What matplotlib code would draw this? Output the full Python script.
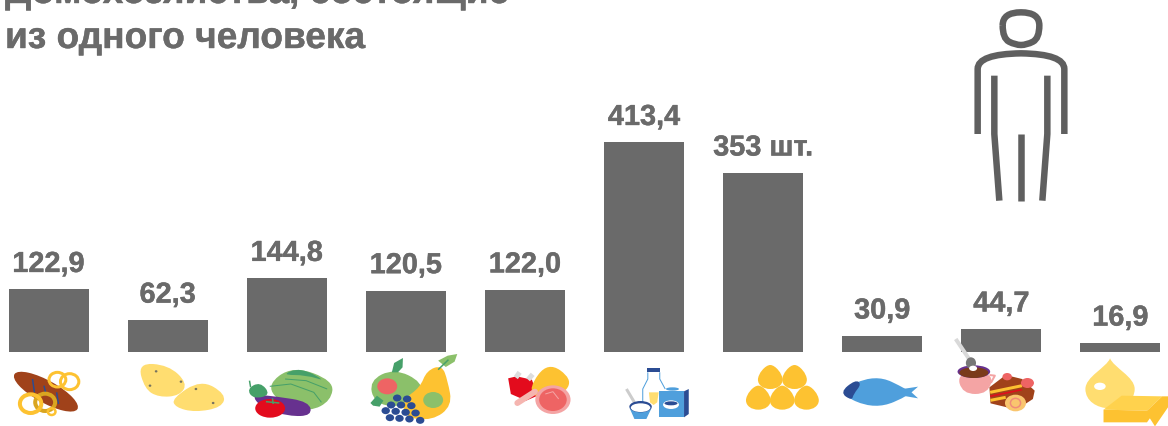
"""Per-capita food consumption of one-person households: bars with food icons."""

import matplotlib

matplotlib.use("Agg")

import matplotlib.pyplot as plt
from matplotlib import patheffects
from matplotlib.patches import Circle, Ellipse, PathPatch, Polygon
from matplotlib.path import Path
from matplotlib.transforms import Affine2D

plt.rcParams["font.family"] = ["Liberation Sans", "DejaVu Sans"]

TITLE_LINES = ["Домохозяйства, состоящие", "из одного человека"]
VALUES = [122.9, 62.3, 144.8, 120.5, 122.0, 413.4, 353, 30.9, 44.7, 16.9]
VALUE_LABELS = ["122,9", "62,3", "144,8", "120,5", "122,0", "413,4", "353 шт.", "30,9", "44,7", "16,9"]

GREY = "#6a6a6a"
PERSON = "#5f5f5f"
GOLD = "#fdc231"
PALE = "#ffdd70"
GREEN = "#8bc06a"
DARK_GREEN = "#46a069"
RED = "#e30b1d"
NAVY = "#2b4c93"
BLUE = "#4f9fdc"
BROWN = "#a0421a"
PINK = "#f4a4a4"
SALMON = "#ee6464"
PURPLE = "#67318f"

PX = 0.72  # one pixel in points at dpi 100
HEAVY = [patheffects.withStroke(linewidth=0.3, foreground=GREY)]

fig = plt.figure(figsize=(11.68, 4.27), dpi=100)

# bars: index i sits at 48.5 + 119.1 i px, baseline at y = 352.5 px, 0.506 px per unit
ax = fig.add_axes([0, 0, 1, 1])
ax.set_xlim(-48.5 / 119.1, (1168 - 48.5) / 119.1)
ax.set_ylim(-74.5 / 0.506, 352.5 / 0.506)
ax.axis("off")
positions = list(range(len(VALUES)))
ax.bar(positions, VALUES, width=80 / 119.1, color=GREY)
for pos, val, label in zip(positions, VALUES, VALUE_LABELS):
    ax.annotate(label, (pos, val), xytext=(0, 12.5), textcoords="offset points",
                ha="center", va="baseline", fontsize=20.8, fontweight="bold", color=GREY,
                path_effects=HEAVY)

# overlay in image pixels for the title and the pictograms
over = fig.add_axes([0, 0, 1, 1])
over.set_xlim(0, 1168)
over.set_ylim(427, 0)
over.axis("off")
over.patch.set_alpha(0)

over.text(5, 4, TITLE_LINES[0], fontsize=26.7, fontweight="bold", color=GREY, va="baseline",
          path_effects=HEAVY)
over.text(5, 49, TITLE_LINES[1], fontsize=26.7, fontweight="bold", color=GREY, va="baseline",
          path_effects=HEAVY)


def sketch(sx, sy, x0, y0):
    """Transform for shapes traced in a scaled crop whose corner is at x0, y0."""
    return Affine2D().scale(sx, sy).translate(x0, y0) + over.transData


def smooth_path(pts):
    """Closed quadratic curve through the midpoints of pts."""
    n = len(pts)
    mids = [((pts[i][0] + pts[(i + 1) % n][0]) / 2, (pts[i][1] + pts[(i + 1) % n][1]) / 2) for i in range(n)]
    verts = [mids[-1]]
    codes = [Path.MOVETO]
    for i in range(n):
        verts += [pts[i], mids[i]]
        codes += [Path.CURVE3, Path.CURVE3]
    return Path(verts, codes)


def blob(tf, pts, color, z=2):
    over.add_patch(PathPatch(smooth_path(pts), fc=color, ec="none", transform=tf, zorder=z))


def poly(tf, pts, color, z=2):
    over.add_patch(Polygon(pts, closed=True, fc=color, ec="none", transform=tf, zorder=z))


def oval(tf, xy, w, h, color, z=2, angle=0):
    over.add_patch(Ellipse(xy, w, h, angle=angle, fc=color, ec="none", transform=tf, zorder=z))


def ring(tf, xy, r, color, width, z=3):
    over.add_patch(Circle(xy, r, fc="none", ec=color, lw=width * PX, transform=tf, zorder=z))


def stroke(tf, pts, color, width, z=3, cap="butt"):
    xs, ys = zip(*pts)
    over.plot(xs, ys, color=color, lw=width * PX, transform=tf, zorder=z,
              solid_capstyle=cap, solid_joinstyle="round")


def pointed(tf, cx, top, bottom, half, pull, shoulder, color, z=2, tip=0.3):
    """Symmetric egg or drop shape; tip=0 gives a round top, tip>0 a sharp one."""
    c1 = top + (shoulder - top) * tip
    c2 = shoulder - (shoulder - top) * 0.4
    c3 = shoulder + (bottom - shoulder) * 0.6
    verts = [
        (cx, top),
        (cx + pull, c1), (cx + half, c2), (cx + half, shoulder),
        (cx + half, c3), (cx + half * 0.55, bottom), (cx, bottom),
        (cx - half * 0.55, bottom), (cx - half, c3), (cx - half, shoulder),
        (cx - half, c2), (cx - pull, c1), (cx, top),
    ]
    codes = [Path.MOVETO] + [Path.CURVE4] * 12
    over.add_patch(PathPatch(Path(verts, codes), fc=color, ec="none", transform=tf, zorder=z))


def draw_left_icons(tf):
    # bread and rings
    oval(tf, (120, 158), 195, 65, BROWN, angle=33)
    for seg in [[(85, 120), (90, 160)], [(115, 140), (120, 165)], [(148, 160), (153, 195)]]:
        stroke(tf, seg, NAVY, 1.5)
    ring(tf, (150, 122), 22, GOLD, 3)
    ring(tf, (182, 128), 24, GOLD, 3)
    ring(tf, (118, 190), 26, "#d9a520", 4)
    ring(tf, (80, 194), 28, GOLD, 4, z=4)
    ring(tf, (135, 218), 10, GOLD, 2.5)

    # potatoes
    blob(tf, [(360, 72), (440, 78), (490, 132), (470, 170), (415, 175), (378, 150)], PALE)
    blob(tf, [(450, 178), (525, 122), (590, 165), (580, 205), (510, 220), (458, 205)], PALE)
    for xy in [(408, 97), (473, 128), (392, 140), (512, 150), (557, 192)]:
        oval(tf, xy, 7, 7, "#77735f", z=3)

    # vegetables
    blob(tf, [(695, 140), (765, 80), (872, 125), (865, 185), (810, 218), (740, 198)], GREEN)
    blob(tf, [(735, 108), (785, 85), (855, 128), (800, 108)], DARK_GREEN, z=3)
    stroke(tf, [(705, 142), (760, 135), (820, 160), (840, 190)], DARK_GREEN, 1)
    stroke(tf, [(745, 120), (800, 125), (855, 150)], DARK_GREEN, 1)
    blob(tf, [(655, 165), (720, 172), (808, 188), (815, 230), (755, 232), (685, 208)], PURPLE, z=3)
    blob(tf, [(645, 150), (680, 128), (708, 168), (662, 180)], DARK_GREEN, z=4)
    stroke(tf, [(652, 125), (655, 145)], DARK_GREEN, 1.5, z=4)
    oval(tf, (706, 208), 78, 56, RED, z=5)
    stroke(tf, [(695, 188), (730, 192)], DARK_GREEN, 1.5, z=6)
    stroke(tf, [(712, 178), (714, 195)], DARK_GREEN, 1.5, z=6)

    # fruit
    blob(tf, [(965, 125), (1030, 88), (1105, 130), (1095, 180), (1040, 205), (978, 192)], GREEN)
    oval(tf, (1012, 142), 52, 48, SALMON, z=3)
    poly(tf, [(1024, 100), (1030, 72), (1053, 57), (1052, 85), (1040, 100)], DARK_GREEN)
    poly(tf, [(968, 192), (985, 170), (1002, 185), (992, 203), (975, 200)], DARK_GREEN, z=4)
    blob(tf, [(1115, 95), (1155, 78), (1170, 125), (1182, 200), (1130, 245), (1055, 235), (1055, 180), (1098, 145)], GOLD, z=3)
    oval(tf, (1132, 183), 52, 48, GREEN, z=4)
    stroke(tf, [(1145, 92), (1172, 62)], DARK_GREEN, 1.5)
    poly(tf, [(1145, 65), (1170, 50), (1195, 45), (1188, 68), (1165, 84)], GREEN)
    for xy in [(1038, 177), (1064, 180), (1022, 198), (1048, 198), (1075, 200),
               (1008, 215), (1034, 217), (1060, 220), (1086, 222),
               (1019, 236), (1044, 238), (1070, 240), (1098, 244)]:
        oval(tf, xy, 22, 21, NAVY, z=5)

    # meat
    poly(tf, [(1328, 118), (1350, 112), (1390, 122), (1405, 170), (1375, 185), (1335, 165)], RED)
    stroke(tf, [(1358, 100), (1348, 116)], "#dddddd", 5)
    stroke(tf, [(1392, 106), (1380, 122)], "#dddddd", 5)
    stroke(tf, [(1352, 192), (1398, 158)], "#f5b5b0", 6, z=4, cap="round")
    blob(tf, [(1382, 145), (1432, 68), (1496, 120), (1472, 168), (1402, 180)], GOLD, z=3)
    oval(tf, (1445, 182), 92, 86, PINK, z=5)
    oval(tf, (1445, 182), 72, 68, SALMON, z=6)
    stroke(tf, [(1425, 165), (1445, 158), (1460, 180)], PINK, 1, z=7)


def draw_right_icons(tf):
    # dairy
    poly(tf, [(132, 100), (165, 100), (165, 120), (180, 150), (180, 225), (118, 225), (118, 150), (132, 120)], "white")
    stroke(tf, [(132, 100), (132, 120), (118, 150), (118, 225)], BLUE, 1, z=3)
    stroke(tf, [(165, 100), (165, 120), (180, 150)], BLUE, 1, z=3)
    poly(tf, [(130, 87), (165, 87), (165, 100), (130, 100)], NAVY, z=3)
    poly(tf, [(135, 160), (162, 160), (158, 190), (148, 198), (138, 190)], PALE, z=3)
    poly(tf, [(163, 157), (232, 157), (232, 235), (163, 235)], BLUE, z=4)
    poly(tf, [(232, 157), (245, 150), (245, 225), (232, 235)], NAVY, z=4)
    oval(tf, (200, 150), 36, 10, BLUE, z=3)
    oval(tf, (196, 197), 44, 26, "white", z=5)
    oval(tf, (196, 193), 36, 12, NAVY, z=6)
    stroke(tf, [(73, 150), (95, 190)], "#cccccc", 3)
    poly(tf, [(82, 208), (142, 208), (128, 240), (95, 240)], BLUE, z=5)
    oval(tf, (112, 203), 62, 34, NAVY, z=5)
    oval(tf, (112, 206), 54, 26, "white", z=6)

    # eggs
    for cx, top in [(470, 78), (537, 78), (437, 140), (503, 140), (570, 140)]:
        pointed(tf, cx, top, top + 72, 34, 14, top + 44, GOLD, tip=0)

    # fish
    blob(tf, [(650, 160), (760, 105), (850, 152), (862, 165), (760, 213)], BLUE)
    poly(tf, [(835, 150), (878, 143), (860, 160), (878, 178), (835, 170)], BLUE)
    blob(tf, [(662, 160), (705, 122), (722, 135), (700, 165), (695, 185)], NAVY, z=3)

    # dessert
    stroke(tf, [(982, 0), (1022, 65)], "#d9d9d9", 4)
    blob(tf, [(985, 100), (1087, 100), (1072, 165), (1000, 165)], PINK)
    stroke(tf, [(1075, 108), (1090, 110), (1080, 130), (1070, 132)], PINK, 2)
    oval(tf, (1032, 98), 90, 38, PURPLE, z=3)
    oval(tf, (1032, 101), 80, 32, "#7a3a1a", z=4)
    oval(tf, (1024, 72), 28, 34, "#777777", z=5)
    oval(tf, (1030, 88), 22, 16, "white", z=6)
    poly(tf, [(1075, 145), (1120, 108), (1165, 120), (1200, 155), (1195, 180), (1150, 212), (1078, 193)], BROWN)
    stroke(tf, [(1077, 160), (1165, 140)], GOLD, 3, z=3)
    stroke(tf, [(1077, 172), (1165, 152)], RED, 1.5, z=3)
    stroke(tf, [(1078, 184), (1120, 175)], GOLD, 3, z=3)
    oval(tf, (1124, 113), 26, 22, SALMON, z=4)
    oval(tf, (1180, 132), 36, 30, SALMON, z=4)
    oval(tf, (1147, 192), 58, 50, "#f9c56e", z=5)
    ring(tf, (1147, 192), 14, "#f08a7a", 1.5, z=6)

    # oil and butter
    pointed(tf, 1408, 58, 208, 68, 10, 150, PALE)
    oval(tf, (1380, 142), 32, 22, "white", z=3)
    poly(tf, [(1390, 212), (1440, 170), (1552, 172), (1510, 215)], "#ffd24d", z=4)
    poly(tf, [(1390, 212), (1510, 215), (1510, 250), (1390, 250)], GOLD, z=4)
    poly(tf, [(1510, 215), (1552, 172), (1568, 172), (1568, 205), (1532, 262), (1518, 238), (1510, 250)], GOLD, z=4)


def draw_person(tf):
    head = smooth_path([(158, 40), (268, 40), (268, 118), (230, 138), (196, 138), (158, 118)])
    over.add_patch(PathPatch(head, fc="none", ec=PERSON, lw=6.5 * PX, transform=tf))
    arms = Path([(83, 405), (83, 210), (83, 165), (213, 163), (343, 165), (343, 210), (343, 405)],
                [Path.MOVETO, Path.LINETO, Path.CURVE3, Path.CURVE3, Path.CURVE3, Path.CURVE3, Path.LINETO])
    over.add_patch(PathPatch(arms, fc="none", ec=PERSON, lw=6.5 * PX, capstyle="butt", transform=tf))
    stroke(tf, [(133, 230), (133, 405), (148, 605)], PERSON, 6.5)
    stroke(tf, [(292, 230), (292, 405), (277, 605)], PERSON, 6.5)
    stroke(tf, [(213, 405), (213, 605)], PERSON, 6.5)


draw_left_icons(sketch(600 / 1568, 1 / 3, 0, 340))
draw_right_icons(sketch(568 / 1568, 1 / 3, 600, 340))
draw_person(sketch(1 / 3, 1 / 3, 950, 0))

over.set_xlim(0, 1168)
over.set_ylim(427, 0)

fig.savefig("out.png", dpi=100)
